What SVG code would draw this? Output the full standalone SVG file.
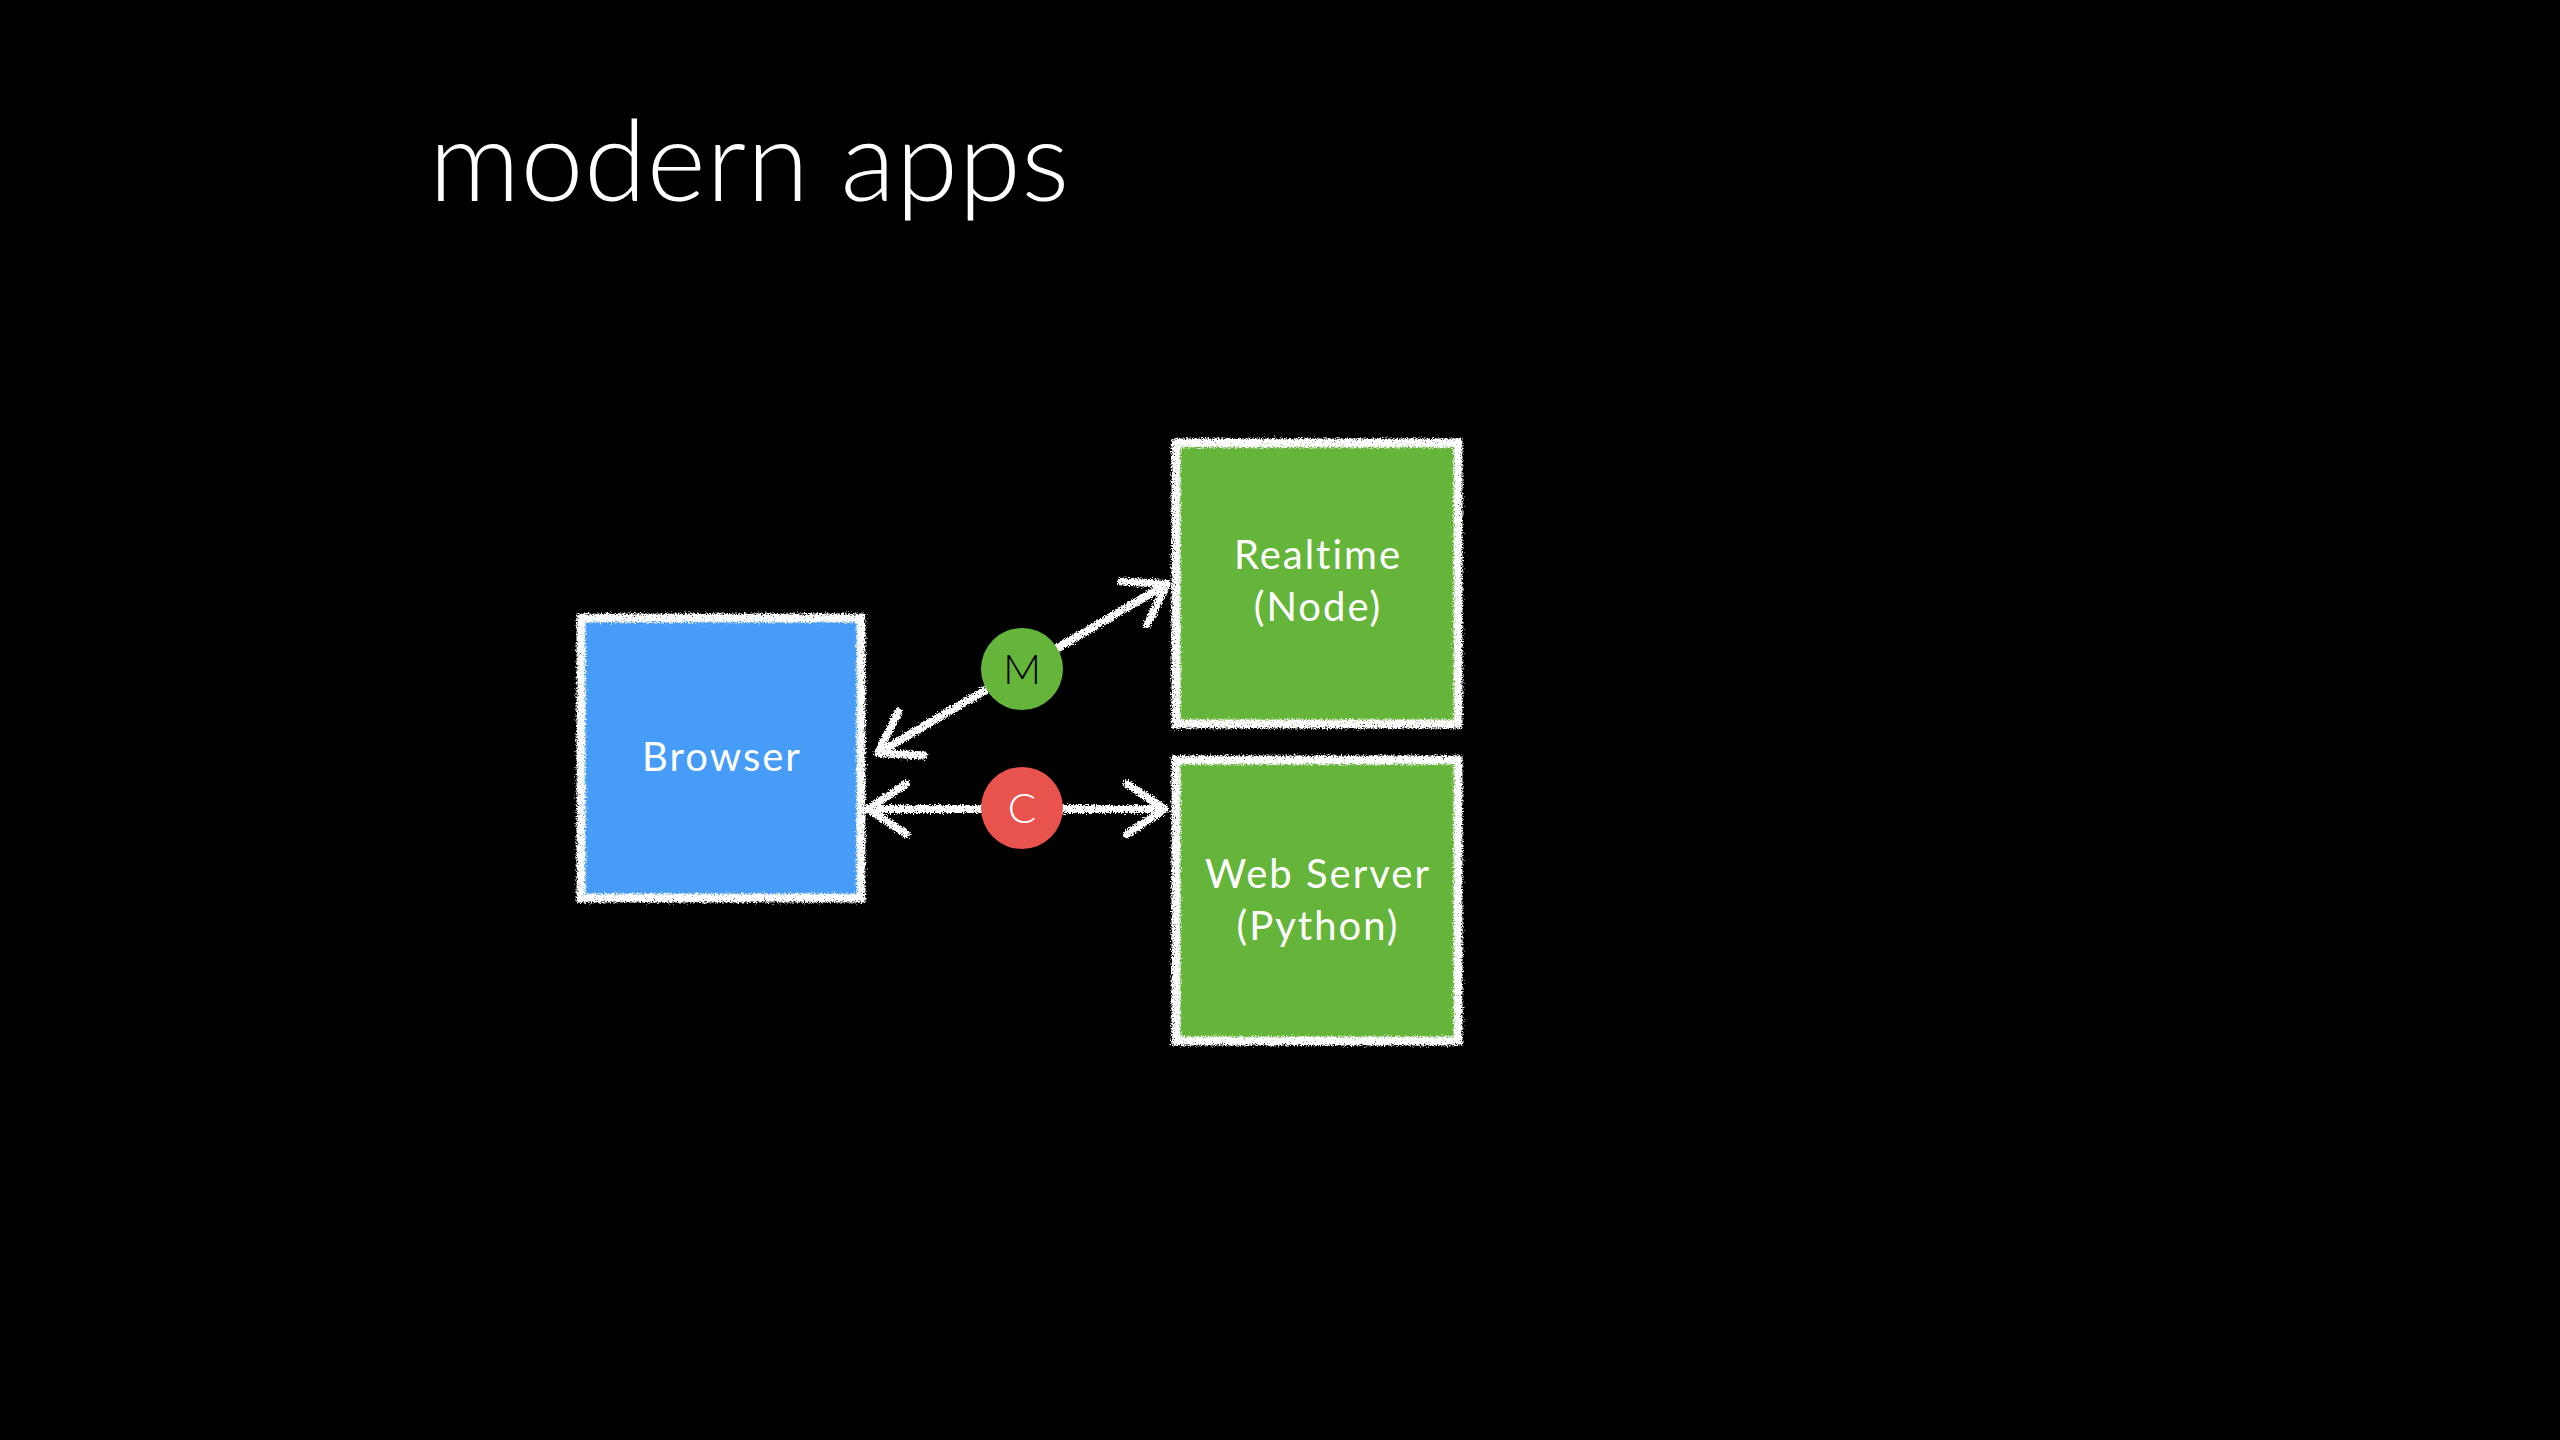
<svg xmlns="http://www.w3.org/2000/svg" width="2560" height="1440" viewBox="0 0 2560 1440">
  <style>
    .title { font-family: Lato, "Liberation Sans", sans-serif; font-weight: 300; font-size: 113px; fill: #ffffff; letter-spacing: 0.5px; }
    .label { font-family: Lato, "Liberation Sans", sans-serif; font-weight: 400; font-size: 40px; fill: #ffffff; text-anchor: middle; letter-spacing: 2px; }
    .badge { font-family: Lato, "Liberation Sans", sans-serif; font-weight: 300; font-size: 42px; text-anchor: middle; }
    .chalk { fill: none; stroke: #ffffff; stroke-width: 9; }
    .blue { fill: #469CF6; }
    .green { fill: #66B53B; }
    .conn { fill: none; stroke: #ffffff; stroke-width: 8; stroke-linecap: round; stroke-linejoin: round; }
  </style>
  <defs>
    <filter id="chalkF" filterUnits="userSpaceOnUse" x="0" y="0" width="2560" height="1440">
      <feTurbulence type="fractalNoise" baseFrequency="0.7" numOctaves="2" seed="4" result="noise"/>
      <feDisplacementMap in="SourceGraphic" in2="noise" scale="7" xChannelSelector="R" yChannelSelector="G" result="rough"/>
      <feTurbulence type="fractalNoise" baseFrequency="1.1" numOctaves="1" seed="9" result="speck"/>
      <feColorMatrix in="speck" type="matrix" values="0 0 0 0 1  0 0 0 0 1  0 0 0 0 1  -8 0 0 0 6.2" result="mask"/>
      <feComposite in="rough" in2="mask" operator="in"/>
    </filter>
    <marker id="chev" markerUnits="userSpaceOnUse" orient="auto-start-reverse" overflow="visible" refX="0" refY="0" markerWidth="10" markerHeight="10">
      <path d="M -38 -25 L 0 0 L -38 25" fill="none" stroke="#ffffff" stroke-width="8" stroke-linecap="round" stroke-linejoin="round"/>
    </marker>
  </defs>

  <rect x="0" y="0" width="2560" height="1440" fill="#000000"/>

  <text class="title" x="429" y="201">modern apps</text>

  <g id="connectors" filter="url(#chalkF)">
    <path class="conn" d="M 878 753 L 1167 584" marker-start="url(#chev)" marker-end="url(#chev)"/>
    <path class="conn" d="M 868 809 L 1165 809" marker-start="url(#chev)" marker-end="url(#chev)"/>
  </g>

  <g id="browser">
    <rect class="blue" x="581" y="618" width="280" height="280"/>
    <rect class="chalk" x="581" y="618" width="280" height="280" filter="url(#chalkF)"/>
    <text class="label" x="722" y="771">Browser</text>
  </g>

  <g id="realtime">
    <rect class="green" x="1176" y="443" width="282" height="281"/>
    <rect class="chalk" x="1176" y="443" width="282" height="281" filter="url(#chalkF)"/>
    <text class="label" x="1318" y="569">Realtime</text>
    <text class="label" x="1318" y="621">(Node)</text>
  </g>

  <g id="webserver">
    <rect class="green" x="1176" y="760" width="282" height="281"/>
    <rect class="chalk" x="1176" y="760" width="282" height="281" filter="url(#chalkF)"/>
    <text class="label" x="1318" y="888">Web Server</text>
    <text class="label" x="1318" y="940">(Python)</text>
  </g>

  <g id="badge-m">
    <circle cx="1022" cy="669" r="41" fill="#66B53B"/>
    <text class="badge" x="1022" y="684" fill="#000000">M</text>
  </g>

  <g id="badge-c">
    <circle cx="1022" cy="808" r="41" fill="#E8534E"/>
    <text class="badge" x="1022" y="823" fill="#ffffff">C</text>
  </g>
</svg>
